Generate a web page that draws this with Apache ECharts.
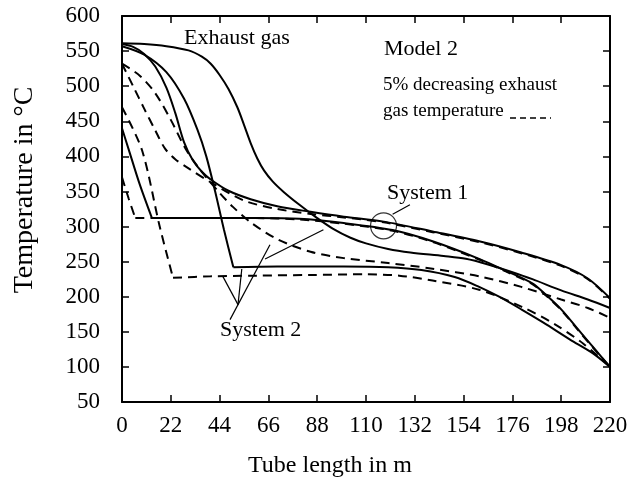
<!DOCTYPE html>
<html>
<head>
<meta charset="utf-8">
<script src="https://cdn.jsdelivr.net/npm/echarts@6/dist/echarts.min.js"></script>
<style>
html,body{margin:0;padding:0;background:#fff;}
#chart{width:638px;height:487px;}
</style>
</head>
<body>
<div id="chart"></div>
<script>
// ---- axis ticks ----
var xTicks = [0, 22, 44, 66, 88, 110, 132, 154, 176, 198, 220];
var yTicks = [50, 100, 150, 200, 250, 300, 350, 400, 450, 500, 550, 600];

// ---- exhaust gas curves ----
var sys2ExhaustSolid = [[0,561],[10,560],[20,557],[30,551],[36,542],[40,532],[44,516],[48,496],[52,470],[55,445],[58,419],[61,397],[64,380],[68,364],[73,349],[80,331],[88,312],[95,297],[103,284],[110,276],[120,268],[130,263],[145,258],[155,254],[165,246],[175,236],[185,225],[198,209],[210,196],[220,184]];
var sys1ExhaustSolid = [[0,560],[5,556],[10,546],[15,528],[20,498],[24,462],[28,420],[32,394],[36,378],[40,367],[48,351],[58,339],[70,329],[85,321],[100,314],[118,307],[140,293],[161,279],[180,263],[198,245],[210,226],[220,198]];
var sys1ExhaustDashed = [[0,532],[5,500],[10,468],[15,437],[19.4,411],[24,396],[30,383],[40,363],[55,337],[70,325],[85,318],[100,313],[118,306],[140,292],[161,278],[180,262],[198,244],[210,225],[220,197]];
var sys2ExhaustDashed = [[0,532],[8,515],[15,490],[22,452],[29,409],[36,378],[44,348],[50,328],[58,306],[70,282],[85,264],[100,255],[120,248],[140,240],[161,229],[180,214],[198,196],[210,184],[220,170]];

// ---- water / steam curves ----
var sys1SteamSolidDrop = [[0,440],[3,410],[8,360],[13.5,312]];
var sys1SteamSolidTail = [[13.5,312],[40,312],[60,312],[80,311],[100,305],[122,295],[140,279],[161,254],[173,237],[185,219],[191,203],[198,182],[206,152],[213,126],[220,100]];
var sys1SteamDashedDrop = [[0,370],[3,340],[6,312]];
var sys1SteamDashedTail = [[6,312],[13.5,312],[40,312],[60,312],[80,310],[100,304],[122,294],[140,278],[161,253],[173,236],[185,218],[191,202],[198,181],[206,151],[213,125],[220,100]];
var sys2SteamSolidDrop = [[0,557],[10,545],[20,520],[28,482],[34,438],[38,400],[42,350],[46,295],[50.2,242]];
var sys2SteamSolidTail = [[50.2,242],[70,243],[100,243],[120,242],[135,238],[150,228],[161,214],[170,200],[180,182],[190,163],[202,139],[212,120],[220,100]];
var sys2SteamDashedDrop = [[0,470],[9,409],[17,300],[23,227]];
var sys2SteamDashedTail = [[23,227],[40,229],[60,230],[85,231],[110,232],[125,230],[140,223],[161,210],[180,186],[195,161],[208,133],[220,100]];

// ---- annotation leader lines (data coordinates) ----
var sys2Leader1 = [[52.3,188.7],[45.5,228.6]];
var sys2Leader2 = [[52.3,188.7],[54,239.5]];
var sys2Leader3 = [[48.7,167.4],[66.7,274]];
var sys2Leader4 = [[64.5,253.8],[90.8,295.5]];
var sys1Circle = [[117.9,301]];
var sys1Leader = [[122,317.5],[129.8,331]];

var FONT = "'Liberation Serif','Times New Roman',serif";
var chart = echarts.init(document.getElementById('chart'), null, {renderer:'canvas'});

function curve(data, dashed, smooth) {
  return {
    type:'line', data:data, smooth: smooth ? 0.3 : false,
    symbol:'none', silent:true,
    lineStyle:{color:'#000', width:2, type: dashed ? [9,6] : 'solid'},
    z:3
  };
}
function leader(data) {
  return {type:'line', data:data, symbol:'none', silent:true,
    lineStyle:{color:'#000', width:1.2}, z:2};
}

var axisCommon = {
  type:'value', min:0, max:220, interval:22,
  axisLine:{show:true, onZero:false, lineStyle:{color:'#000', width:2}},
  axisTick:{show:true, inside:true, length:7, lineStyle:{color:'#000', width:1.5}},
  splitLine:{show:false}
};

var option = {
  animation:false,
  backgroundColor:'#fff',
  grid:{left:122, right:28, top:16, bottom:85},
  xAxis:[
    Object.assign({}, axisCommon, {position:'bottom',
      axisLabel:{color:'#000', fontFamily:FONT, fontSize:23, margin:12,
        formatter:function(v){return xTicks.indexOf(v)>=0 ? String(v) : '';}}}),
    Object.assign({}, axisCommon, {position:'top', axisLabel:{show:false}})
  ],
  yAxis:[
    {type:'value', min:50, max:600, interval:50, position:'left',
      axisLine:{show:true, onZero:false, lineStyle:{color:'#000', width:2}},
      axisTick:{show:true, inside:true, length:7, lineStyle:{color:'#000', width:1.5}},
      splitLine:{show:false},
      axisLabel:{color:'#000', fontFamily:FONT, fontSize:23, margin:22,
        formatter:function(v){return yTicks.indexOf(v)>=0 ? String(v) : '';}}},
    {type:'value', min:50, max:600, interval:50, position:'right',
      axisLine:{show:true, onZero:false, lineStyle:{color:'#000', width:2}},
      axisTick:{show:true, inside:true, length:7, lineStyle:{color:'#000', width:1.5}},
      splitLine:{show:false}, axisLabel:{show:false}}
  ],
  series:[
    curve(sys2ExhaustSolid,false,true),
    curve(sys1ExhaustSolid,false,true),
    curve(sys1ExhaustDashed,true,true),
    curve(sys2ExhaustDashed,true,true),
    curve(sys1SteamSolidDrop,false,true),
    curve(sys1SteamSolidTail,false,true),
    curve(sys1SteamDashedDrop,true,true),
    curve(sys1SteamDashedTail,true,true),
    curve(sys2SteamSolidDrop,false,true),
    curve(sys2SteamSolidTail,false,true),
    curve(sys2SteamDashedDrop,true,true),
    curve(sys2SteamDashedTail,true,true),
    leader(sys2Leader1), leader(sys2Leader2), leader(sys2Leader3), leader(sys2Leader4),
    leader(sys1Leader),
    {type:'scatter', data:sys1Circle, symbol:'circle', symbolSize:26, silent:true,
      itemStyle:{color:'rgba(0,0,0,0)', borderColor:'#000', borderWidth:1.2}, z:4}
  ],
  graphic:[
    {type:'text', left:184, top:27, style:{text:'Exhaust gas', font:'22px '+FONT, fill:'#000'}},
    {type:'text', left:384, top:38, style:{text:'Model 2', font:'22px '+FONT, fill:'#000'}},
    {type:'text', left:383, top:76, style:{text:'5% decreasing exhaust', font:'19px '+FONT, fill:'#000'}},
    {type:'text', left:383, top:102, style:{text:'gas temperature', font:'19px '+FONT, fill:'#000'}},
    {type:'line', shape:{x1:510, y1:118, x2:551, y2:118}, style:{stroke:'#000', lineWidth:1.5, lineDash:[6,4]}},
    {type:'text', left:387, top:182, style:{text:'System 1', font:'22px '+FONT, fill:'#000'}},
    {type:'text', left:220, top:319, style:{text:'System 2', font:'22px '+FONT, fill:'#000'}},
    {type:'text', left:248, top:454, style:{text:'Tube length in m', font:'24px '+FONT, fill:'#000'}},
    {type:'text', x:25, y:190, rotation:Math.PI/2, style:{text:'Temperature in \u00B0C', font:'28px '+FONT, fill:'#000', textAlign:'center', textVerticalAlign:'middle'}}
  ]
};
chart.setOption(option);
</script>
</body>
</html>
